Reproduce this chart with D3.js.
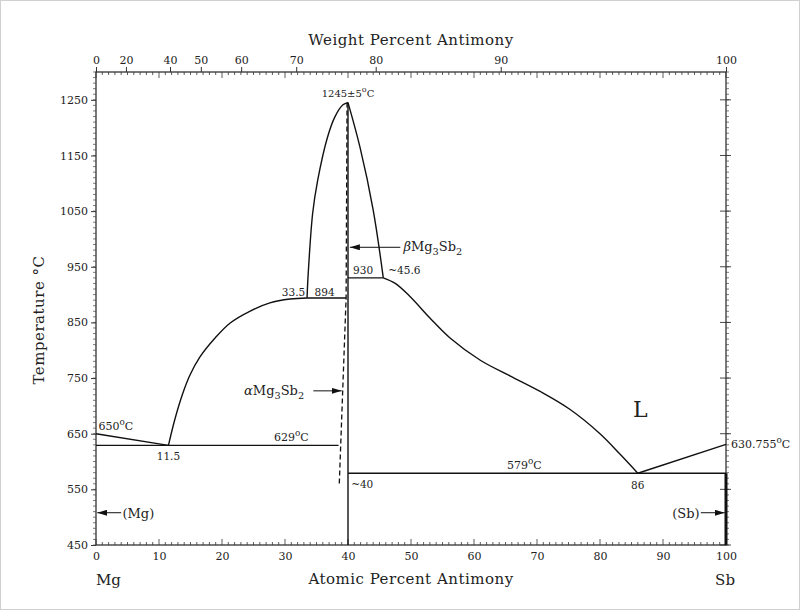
<!DOCTYPE html>
<html><head><meta charset="utf-8">
<script src="https://cdn.jsdelivr.net/npm/d3@7"></script>
<style>
body{margin:0;background:#fff;}
svg{display:block;}
text{font-family:"DejaVu Serif","Liberation Serif",serif;fill:#222;}
</style></head>
<body>
<svg id="chart" width="800" height="610"></svg>
<script>
// ---- data ----
const atomicTicks = [0,10,20,30,40,50,60,70,80,90,100];
const tempTicks = [450,550,650,750,850,950,1050,1150,1250];
const weightTicks = [0,20,40,50,60,70,80,90,100];
const mgLiquidus = [[0,650],[11.5,629]];
const leftLiquidus = [[11.5,629],[12.5,675],[13.7,720],[14.9,755],[16.5,788],[18.9,822],[21.3,849],[24.4,870],[27.6,885],[30.8,892],[33.5,894]];
const domeLeft = [[33.5,894],[33.65,931],[34.4,1047],[35.2,1106],[36.7,1181],[37.9,1219],[39.2,1241],[40,1245]];
const domeRight = [[40,1245],[41.9,1165],[44.0,1052],[45.6,930]];
const rightLiquidus = [[45.6,930],[47.5,920],[49.8,897],[53.0,858],[56.2,822],[61.0,782],[65.7,754],[70.5,726],[75.2,694],[80.0,650],[83.2,613],[86,579]];
const sbLiquidus = [[86,579],[100,630.755]];
const eutecticLeft = [[0,629],[38.5,629]];
const line894 = [[33.5,894],[39.7,894]];
const line930 = [[40,930],[45.6,930]];
const eutecticRight = [[40,579],[100,579]];
const compoundLine = [[40,1245],[40,450]];
const alphaBoundary = [[39.85,1245],[39.7,894],[38.6,555]];
const sbSolid = [[100,579],[100,450]];

// ---- scales ----
const svg = d3.select("#chart");
const x = d3.scaleLinear().domain([0,100]).range([96,726]);
const y = d3.scaleLinear().domain([450,1300]).range([545,72]);
const MA = 24.305, MB = 121.76;
const wtToAt = w => w>=100 ? 100 : 100*(w/MB)/((w/MB)+((100-w)/MA));

svg.append("rect").attr("x",0.5).attr("y",0.5).attr("width",799).attr("height",609)
  .attr("fill","none").attr("stroke","#d0d0d0");

const g = svg.append("g");
g.append("rect").attr("x",x(0)).attr("y",y(1300)).attr("width",x(100)-x(0)).attr("height",y(450)-y(1300))
  .attr("fill","none").attr("stroke","#222").attr("stroke-width",1.2);

// bottom axis
const bottomAxis = g.append("g").attr("transform",`translate(0,${y(450)})`)
  .call(d3.axisBottom(x).tickValues(atomicTicks).tickSize(0).tickPadding(7).tickFormat(d3.format("d")));
bottomAxis.select(".domain").remove();
bottomAxis.selectAll("text").attr("font-size",11).attr("font-family","DejaVu Serif").attr("fill","#333");
const minorAt = d3.range(0,101,1);
g.selectAll(".bmin").data(minorAt).join("line")
  .attr("x1",d=>x(d)).attr("x2",d=>x(d)).attr("y1",y(450)).attr("y2",d=>y(450)-(d%10===0?6:3))
  .attr("stroke","#333").attr("stroke-width",0.8);
g.selectAll(".tmin").data(minorAt).join("line")
  .attr("x1",d=>x(d)).attr("x2",d=>x(d)).attr("y1",y(1300)).attr("y2",d=>y(1300)+(d%10===0?6:3))
  .attr("stroke","#333").attr("stroke-width",0.8);

// top axis (weight percent)
const topAxis = g.append("g").attr("transform",`translate(0,${y(1300)})`)
  .call(d3.axisTop(d3.scaleLinear().domain([0,100]).range([x(0),x(100)]))
    .tickValues(weightTicks.map(wtToAt)).tickSize(5).tickPadding(3)
    .tickFormat((d,i)=>weightTicks[i]));
topAxis.select(".domain").remove();
topAxis.selectAll("line").attr("stroke","#333");
topAxis.selectAll("text").attr("font-size",11).attr("font-family","DejaVu Serif").attr("fill","#333");

// left axis
const leftAxis = g.append("g").attr("transform",`translate(${x(0)},0)`)
  .call(d3.axisLeft(y).tickValues(tempTicks).tickSize(5).tickPadding(3).tickFormat(d3.format("d")));
leftAxis.select(".domain").remove();
leftAxis.selectAll("line").attr("stroke","#333");
leftAxis.selectAll("text").attr("font-size",11).attr("font-family","DejaVu Serif").attr("fill","#333");
const minorT = d3.range(450,1301,10);
g.selectAll(".lmin").data(minorT).join("line")
  .attr("x1",x(0)-3).attr("x2",x(0)).attr("y1",d=>y(d)).attr("y2",d=>y(d))
  .attr("stroke","#444").attr("stroke-width",0.7);
g.selectAll(".rmin").data(minorT).join("line")
  .attr("x1",x(100)).attr("x2",x(100)+3).attr("y1",d=>y(d)).attr("y2",d=>y(d))
  .attr("stroke","#444").attr("stroke-width",0.7);
g.selectAll(".rmaj").data(tempTicks).join("line")
  .attr("x1",x(100)-6).attr("x2",x(100)+5).attr("y1",d=>y(d)).attr("y2",d=>y(d))
  .attr("stroke","#333").attr("stroke-width",0.9);

// phase lines
const line = d3.line().x(d=>x(d[0])).y(d=>y(d[1]));
const curve = d3.line().x(d=>x(d[0])).y(d=>y(d[1])).curve(d3.curveCatmullRom.alpha(0.5));
const draw = (data, gen, w, dash) => g.append("path").datum(data).attr("d",gen)
  .attr("fill","none").attr("stroke","#111").attr("stroke-width",w||1.4)
  .attr("stroke-dasharray",dash||null);
draw(mgLiquidus,line);
draw(leftLiquidus,curve);
draw(domeLeft,curve);
draw(domeRight,curve);
draw(rightLiquidus,curve);
draw(sbLiquidus,line);
draw(eutecticLeft,line);
draw(line894,line);
draw(line930,line);
draw(eutecticRight,line);
draw(compoundLine,line,1.4);
draw(alphaBoundary,line,1.3,"5,3");
draw(sbSolid,line,3);

// arrows
svg.append("defs").append("marker").attr("id","arr").attr("viewBox","0 0 10 6")
  .attr("refX",10).attr("refY",3).attr("markerWidth",10).attr("markerHeight",6).attr("orient","auto")
  .attr("markerUnits","userSpaceOnUse")
  .append("path").attr("d","M0,0 L10,3 L0,6 Z").attr("fill","#111");
const arrow = (x1,y1,x2,y2) => g.append("line").attr("x1",x1).attr("y1",y1).attr("x2",x2).attr("y2",y2)
  .attr("stroke","#111").attr("stroke-width",1).attr("marker-end","url(#arr)");
arrow(x(48.3),y(985),x(40.3),y(985));
arrow(x(34.5),y(727),x(39.0),y(727));
arrow(x(4),y(508),x(0.2),y(508));
arrow(x(96),y(508),x(99.8),y(508));

// labels
const lbl = (tx,ty,parts,size,anchor) => {
  const t = g.append("text").attr("x",tx).attr("y",ty).attr("font-size",size||11)
    .attr("text-anchor",anchor||"start");
  parts.forEach(p=>{
    const s = t.append("tspan").text(p.t);
    if(p.sup){ s.attr("font-size",(size||11)*0.8).attr("dy",-5); }
    if(p.sub){ s.attr("font-size",(size||11)*0.75).attr("dy",4); }
    if(p.base){ s.attr("dy",p.base); }
    if(p.it){ s.attr("font-style","italic"); }
  });
  return t;
};
lbl(x(40),y(1245)-6,[{t:"1245±5"},{t:"o",sup:1},{t:"C",base:5}],10,"middle");
lbl(x(48.8),y(985)+4,[{t:"β",it:1},{t:"Mg"},{t:"3",sub:1},{t:"Sb",base:-4},{t:"2",sub:1}],13);
lbl(x(40.8),y(930)-4,[{t:"930"}],10.5);
lbl(x(46.4),y(930)-4,[{t:"~45.6"}],10.5);
lbl(x(33.2),y(894)-2,[{t:"33.5"}],10.5,"end");
lbl(x(34.7),y(894)-2,[{t:"894"}],10.5);
lbl(x(23.5),y(727)+4,[{t:"α",it:1},{t:"Mg"},{t:"3",sub:1},{t:"Sb",base:-4},{t:"2",sub:1}],13);
lbl(x(31),y(629)-4,[{t:"629"},{t:"o",sup:1},{t:"C",base:5}],11,"middle");
lbl(x(0.4),y(650)-4,[{t:"650"},{t:"o",sup:1},{t:"C",base:5}],11);
lbl(x(11.5),y(629)+15,[{t:"11.5"}],10.5,"middle");
lbl(x(40.5),y(579)+15,[{t:"~40"}],10.5);
lbl(x(68),y(579)-4,[{t:"579"},{t:"o",sup:1},{t:"C",base:5}],11,"middle");
lbl(x(86),y(579)+16,[{t:"86"}],10.5,"middle");
lbl(x(100)+5,y(630.755)+4,[{t:"630.755"},{t:"o",sup:1},{t:"C",base:5}],11);
lbl(x(86.4),y(680),[{t:"L"}],22,"middle");
lbl(x(4.2),y(508)+5,[{t:"(Mg)"}],13);
lbl(x(95.8),y(508)+5,[{t:"(Sb)"}],13,"end");

// axis titles
lbl(411,45,[{t:"Weight Percent Antimony"}],15,"middle").attr("letter-spacing",0.5);
lbl(411,584,[{t:"Atomic Percent Antimony"}],15,"middle").attr("letter-spacing",0.5);
lbl(96,585,[{t:"Mg"}],15,"start");
lbl(735,585,[{t:"Sb"}],15,"end");
g.append("text").attr("transform","translate(44,320) rotate(-90)").attr("text-anchor","middle")
  .attr("font-size",15).attr("letter-spacing",0.5).text("Temperature °C");
</script>
</body></html>
